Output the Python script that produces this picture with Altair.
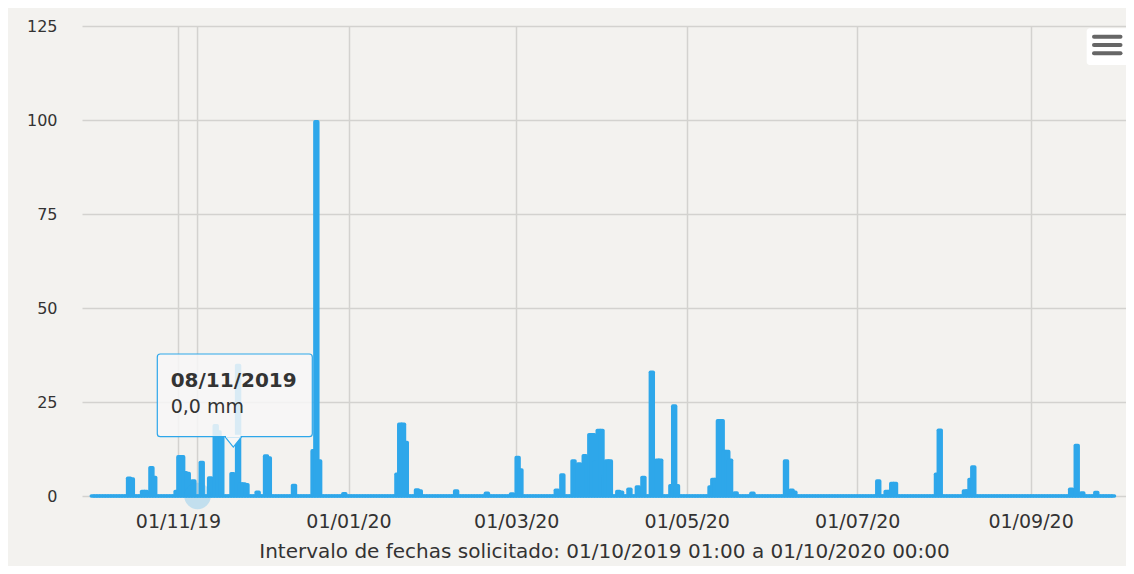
import altair as alt
import pandas as pd

# ---------------- data ----------------
rain_days = [
    "2019-10-14", "2019-10-15", "2019-10-19", "2019-10-20", "2019-10-22", "2019-10-23",
    "2019-10-31", "2019-11-01", "2019-11-02", "2019-11-03", "2019-11-04", "2019-11-06",
    "2019-11-09", "2019-11-12", "2019-11-14", "2019-11-15", "2019-11-16", "2019-11-20",
    "2019-11-22", "2019-11-23", "2019-11-24", "2019-11-25", "2019-11-29", "2019-12-02",
    "2019-12-03", "2019-12-12", "2019-12-19", "2019-12-20", "2019-12-21", "2019-12-30",
    "2020-01-18", "2020-01-19", "2020-01-20", "2020-01-21", "2020-01-25", "2020-01-26",
    "2020-02-08", "2020-02-19", "2020-02-28", "2020-03-01", "2020-03-02", "2020-03-15",
    "2020-03-17", "2020-03-21", "2020-03-22", "2020-03-23", "2020-03-24", "2020-03-25",
    "2020-03-26", "2020-03-27", "2020-03-28", "2020-03-29", "2020-03-30", "2020-03-31",
    "2020-04-01", "2020-04-02", "2020-04-03", "2020-04-06", "2020-04-07", "2020-04-10",
    "2020-04-13", "2020-04-14", "2020-04-15", "2020-04-18", "2020-04-20", "2020-04-21",
    "2020-04-25", "2020-04-26", "2020-04-27", "2020-05-09", "2020-05-10", "2020-05-11",
    "2020-05-12", "2020-05-13", "2020-05-14", "2020-05-15", "2020-05-16", "2020-05-18",
    "2020-05-24", "2020-06-05", "2020-06-07", "2020-06-08", "2020-07-08", "2020-07-11",
    "2020-07-12", "2020-07-13", "2020-07-14", "2020-07-29", "2020-07-30", "2020-08-08",
    "2020-08-09", "2020-08-10", "2020-08-11", "2020-09-15", "2020-09-17", "2020-09-19",
    "2020-09-24",
]
rain_mm = [
    4.7, 4.5, 1.2, 1.2, 7.5, 4.9,
    1.2, 10.4, 10.4, 6.2, 6.0, 4.0,
    8.9, 4.8, 18.7, 17.0, 15.5, 5.9,
    34.7, 3.2, 3.2, 3.0, 1.0, 10.6,
    10.1, 2.8, 12.0, 99.5, 9.3, 0.6,
    5.8, 19.1, 19.1, 14.2, 1.6, 1.3,
    1.3, 0.7, 0.5, 10.2, 6.9, 1.5,
    5.6, 9.3, 7.0, 8.5, 2.0, 10.7,
    10.0, 16.3, 16.3, 9.0, 17.4, 17.4,
    5.0, 9.3, 9.3, 1.2, 1.0, 1.8,
    2.4, 1.5, 4.9, 32.9, 9.5, 9.5,
    2.7, 23.9, 2.7, 2.4, 4.4, 4.4,
    20.0, 20.0, 11.8, 11.8, 9.5, 0.8,
    0.7, 9.3, 1.5, 1.0, 4.0, 1.2,
    1.2, 3.3, 3.3, 5.8, 17.5, 1.3,
    1.3, 4.4, 7.7, 1.8, 13.4, 0.8,
    0.9,
]
first_day = "2019-10-01"
n_days = 366

y_ticks = [0, 25, 50, 75, 100, 125]
x_tick_dates = [(2019, 11, 1), (2020, 1, 1), (2020, 3, 1), (2020, 5, 1), (2020, 7, 1), (2020, 9, 1)]
x_title = "Intervalo de fechas solicitado: 01/10/2019 01:00 a 01/10/2020 00:00"
tip_day = (2019, 11, 8)
tip_title = "08/11/2019"
tip_value = "0,0 mm"

# ---------------- table ----------------
days = pd.date_range(first_day, periods=n_days, freq="D")
mm = pd.Series(0.0, index=days)
for d, v in zip(rain_days, rain_mm):
    mm[pd.Timestamp(d)] = v
df = pd.DataFrame({
    "start": days.strftime("%Y-%m-%dT%H:%M:%S"),
    "end": (days + pd.Timedelta(days=1)).strftime("%Y-%m-%dT%H:%M:%S"),
    "mm": mm.values,
})

BLUE = "#2ea7ea"
BG = "#f3f2ef"
GRID = "#d3d2cf"
TXT = "#333333"
FONT = "DejaVu Sans"

def dt(y, m, d, h=0):
    return alt.DateTime(year=y, month=m, date=d, hours=h)

x_scale = alt.Scale(domain=[dt(2019, 9, 27, 16), dt(2020, 10, 5, 3)])
y_scale = alt.Scale(domain=[0, 125], nice=False)

bars = alt.Chart(df).mark_bar(
    fill=BLUE, stroke=BLUE, strokeWidth=3.6, strokeJoin="round"
).encode(
    x=alt.X("start:T", scale=x_scale,
            axis=alt.Axis(values=[dt(*t) for t in x_tick_dates], format="%d/%m/%y",
                          grid=True, ticks=False, tickSize=0, domain=False,
                          labelPadding=16, title=x_title, titlePadding=10)),
    x2="end:T",
    y=alt.Y("mm:Q", scale=y_scale,
            axis=alt.Axis(values=y_ticks, grid=True, ticks=False, tickSize=0,
                          domain=False, labelPadding=25, title=None)),
    y2=alt.datum(0),
)

tip_x = alt.X(datum=dt(*tip_day), type="temporal", scale=x_scale)

crosshair = alt.Chart().mark_rule(color=GRID, strokeWidth=1.5).encode(x=tip_x)

halo = alt.Chart().mark_circle(color=BLUE, opacity=0.25, size=700).encode(
    x=tip_x, y=alt.Y(datum=0, type="quantitative", scale=y_scale))

# tooltip (annotation, pixel positions inside the plot)
tip_box = alt.Chart().mark_rect(
    fill="#f7f7f7", fillOpacity=0.85, stroke=BLUE, strokeWidth=1.2, cornerRadius=3
).encode(x=alt.value(75.3), x2=alt.value(230.3), y=alt.value(328), y2=alt.value(410.7))
tip_arrow = alt.Chart().mark_point(
    shape="M -0.8 -0.5 L 0.8 -0.5 L 0 0.5 Z", size=400, filled=True,
    fill="#f7f7f7", fillOpacity=1, stroke=BLUE, strokeWidth=1.2, opacity=1
).encode(x=alt.value(151.3), y=alt.value(416))
tip_cover = alt.Chart().mark_rect(fill="#f7f7f7").encode(
    x=alt.value(144.0), x2=alt.value(158.6), y=alt.value(408.8), y2=alt.value(411.6))
tip_t1 = alt.Chart().mark_text(
    text=tip_title, font=FONT, fontSize=20, fontWeight="bold", color=TXT,
    align="left", baseline="alphabetic"
).encode(x=alt.value(88.7), y=alt.value(361))
tip_t2 = alt.Chart().mark_text(
    text=tip_value, font=FONT, fontSize=19, color=TXT,
    align="left", baseline="alphabetic"
).encode(x=alt.value(88.7), y=alt.value(387))

# menu button
menu_bg = alt.Chart().mark_rect(fill="white", cornerRadius=3).encode(
    x=alt.value(1004.7), x2=alt.value(1051), y=alt.value(2.3), y2=alt.value(39))
menu_lines = [
    alt.Chart().mark_rule(color="#666666", strokeWidth=4, strokeCap="round").encode(
        x=alt.value(1012), x2=alt.value(1038.5), y=alt.value(yy))
    for yy in (10.7, 19, 27.3)
]

chart = alt.layer(
    crosshair, bars, halo, tip_box, tip_arrow, tip_cover, tip_t1, tip_t2, menu_bg, *menu_lines
).properties(
    width=1044, height=470, background=BG,
    padding={"left": 74, "top": 18, "right": 0, "bottom": 70},
    autosize=alt.AutoSizeParams(type="none"),
).configure_view(stroke=None).configure_axis(
    gridColor=GRID, gridWidth=1.5, labelFont=FONT, labelColor=TXT, labelFontSize=16,
    titleFont=FONT, titleColor=TXT, titleFontSize=20, titleFontWeight="normal",
).configure_axisX(labelFontSize=19)

chart.save("out.html", embed_options={"renderer": "svg", "actions": False})
